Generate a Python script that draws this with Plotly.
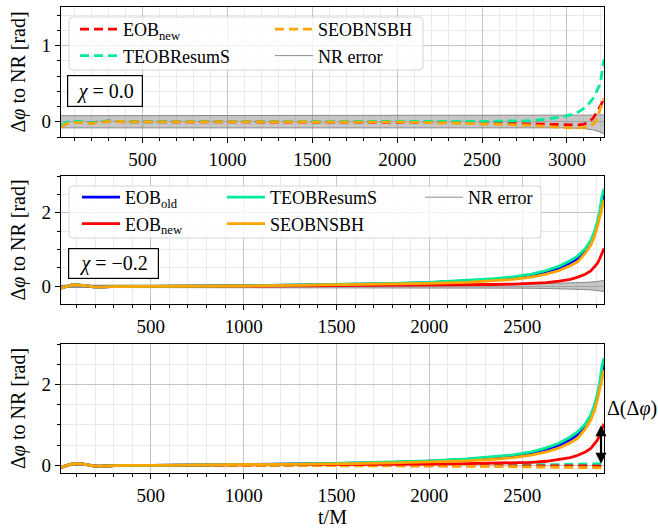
import plotly.graph_objects as go

# ---------------- data ----------------
# Panel 1: chi = 0.0 (dashed curves)
t_chi0 = [20, 40, 60, 90, 130, 170, 210, 260, 310, 400, 600, 1000, 1500, 2000, 2300, 2500,
          2650, 2780, 2880, 2960, 3020, 3070, 3100, 3130, 3155, 3175, 3190, 3200, 3210, 3218]
eob_new_chi0 = [-0.06, -0.03, -0.01, 0.0, -0.005, -0.02, -0.015, 0.0, 0.01, 0.0, 0.0, 0.0, 0.0, -0.003, -0.008, -0.012,
                -0.02, -0.03, -0.04, -0.045, -0.048, -0.042, -0.03, -0.005, 0.05, 0.12, 0.18, 0.22, 0.27, 0.33]
teob_chi0 = [-0.05, -0.02, 0.0, 0.01, 0.005, -0.01, -0.01, 0.005, 0.01, 0.0, 0.0, 0.0, 0.0, 0.0, 0.002, 0.005,
             0.01, 0.013, 0.035, 0.06, 0.09, 0.13, 0.18, 0.24, 0.31, 0.39, 0.47, 0.56, 0.68, 0.82]
seob_chi0 = [-0.07, -0.04, -0.02, -0.01, -0.01, -0.02, -0.02, -0.005, 0.005, 0.0, 0.0, 0.0, 0.0, -0.005, -0.015, -0.025,
             -0.035, -0.045, -0.06, -0.075, -0.08, -0.08, -0.075, -0.06, -0.03, 0.03, 0.14, 0.2, 0.26, 0.31]
t_nr0 = [20, 1000, 2000, 2500, 2800, 3000, 3100, 3150, 3190, 3218]
nr_up_chi0 = [0.08, 0.08, 0.08, 0.08, 0.08, 0.082, 0.085, 0.087, 0.09, 0.09]
nr_lo_chi0 = [-0.08, -0.08, -0.08, -0.075, -0.075, -0.08, -0.09, -0.105, -0.13, -0.16]

# Panels 2 & 3: chi = -0.2 (solid curves)
t_chi2 = [16, 40, 70, 100, 130, 160, 190, 230, 280, 350, 500, 1000, 1500, 1800, 2000, 2200, 2350, 2450,
          2550, 2630, 2700, 2760, 2800, 2840, 2870, 2890, 2905, 2918, 2930, 2941]
eob_old_chi2 = [-0.05, -0.01, 0.03, 0.04, 0.035, 0.01, -0.015, -0.02, -0.005, 0.0, 0.0, 0.015, 0.045, 0.075, 0.1, 0.145, 0.19, 0.235,
                0.3, 0.39, 0.5, 0.64, 0.76, 0.96, 1.19, 1.44, 1.69, 1.98, 2.33, 2.54]
eob_new_chi2 = [-0.05, -0.01, 0.03, 0.04, 0.035, 0.01, -0.015, -0.02, -0.005, 0.0, 0.0, 0.005, 0.015, 0.025, 0.03, 0.04, 0.05, 0.06,
                0.075, 0.1, 0.14, 0.19, 0.25, 0.33, 0.42, 0.52, 0.62, 0.75, 0.9, 1.03]
teob_chi2 = [-0.05, -0.01, 0.03, 0.04, 0.035, 0.01, -0.015, -0.02, -0.005, 0.0, 0.0, 0.015, 0.05, 0.08, 0.11, 0.16, 0.21, 0.26,
             0.33, 0.43, 0.55, 0.7, 0.83, 1.02, 1.25, 1.5, 1.75, 2.05, 2.45, 2.65]
seob_chi2 = [-0.05, -0.01, 0.03, 0.04, 0.035, 0.01, -0.015, -0.02, -0.005, 0.0, 0.0, 0.01, 0.035, 0.06, 0.08, 0.11, 0.15, 0.19,
             0.25, 0.33, 0.43, 0.56, 0.67, 0.9, 1.12, 1.36, 1.62, 1.88, 2.16, 2.36]
t_nr2 = [16, 500, 1000, 1500, 2000, 2300, 2500, 2650, 2750, 2850, 2900, 2941]
nr_up_chi2 = [0.03, 0.03, 0.03, 0.03, 0.035, 0.045, 0.055, 0.07, 0.085, 0.11, 0.13, 0.16]
nr_lo_chi2 = [-0.03, -0.03, -0.03, -0.03, -0.035, -0.04, -0.05, -0.06, -0.07, -0.09, -0.11, -0.14]

# Panel 3 dashed curves
teob_dash3 = [-0.05, -0.01, 0.03, 0.04, 0.035, 0.01, -0.015, -0.02, -0.005, 0.0, 0.0, 0.0, 0.0, 0.003, 0.005, 0.008, 0.01, 0.012,
              0.015, 0.017, 0.02, 0.022, 0.025, 0.027, 0.03, 0.031, 0.033, 0.035, 0.038, 0.04]
eob_new_dash3 = [-0.05, -0.01, 0.03, 0.04, 0.035, 0.01, -0.015, -0.02, -0.005, 0.0, 0.0, 0.0, 0.0, -0.002, -0.003, -0.004, -0.005, -0.006,
                 -0.007, -0.008, -0.01, -0.011, -0.012, -0.013, -0.014, -0.015, -0.016, -0.017, -0.018, -0.02]
seob_dash3 = [-0.05, -0.01, 0.03, 0.04, 0.035, 0.01, -0.015, -0.02, -0.005, 0.0, 0.0, 0.0, -0.005, -0.01, -0.015, -0.02, -0.025, -0.03,
              -0.035, -0.04, -0.043, -0.046, -0.048, -0.05, -0.052, -0.054, -0.056, -0.058, -0.06, -0.062]

x_ticks = [500, 1000, 1500, 2000, 2500, 3000]
x_range0 = [20, 3218]
x_range2 = [16, 2941]
y_range1 = [-0.2, 1.507]
y_range2 = [-0.48, 3.0]
y_range3 = [-0.19, 3.0]

# ---------------- styling ----------------
W, H = 658, 531
L, R, T, B = 61, 604, 7, 473
def px(x):
    return (x - L) / (R - L)
def py(y):
    return (B - y) / (B - T)

FONT = "Liberation Serif"
RED = "#ff0000"
GREEN = "#00ec98"
ORANGE = "#ffa500"
BLUE = "#0000ff"
GRAY = "#808080"
BAND = "rgba(128,128,128,0.45)"
DASH = "9px,5px"
LW = 2.8

fig = go.Figure()

def add(x, y, color, name, xa, ya, dash=None, legend=None, show=False, rank=1000, width=LW):
    fig.add_trace(go.Scatter(x=x, y=y, mode="lines", name=name,
                             line=dict(color=color, width=width, dash=dash),
                             xaxis=xa, yaxis=ya, showlegend=show,
                             legend=legend if legend else "legend", legendrank=rank,
                             hoverinfo="skip"))

def band(t, lo, up, xa, ya, legend=None, show=False, rank=1000):
    fig.add_trace(go.Scatter(x=t, y=lo, mode="lines", name="NR error",
                             line=dict(color=GRAY, width=0.9), xaxis=xa, yaxis=ya,
                             showlegend=show, legend=legend if legend else "legend",
                             legendrank=rank, hoverinfo="skip"))
    fig.add_trace(go.Scatter(x=t, y=up, mode="lines", fill="tonexty", fillcolor=BAND,
                             line=dict(color=GRAY, width=0.9), xaxis=xa, yaxis=ya,
                             showlegend=False, hoverinfo="skip"))

# panel 1
band(t_nr0, nr_lo_chi0, nr_up_chi0, "x", "y", legend="legend2", show=True, rank=2)
add(t_chi0, eob_new_chi0, RED, "EOB<sub>new</sub>", "x", "y", dash=DASH, legend="legend", show=True, rank=1)
add(t_chi0, teob_chi0, GREEN, "TEOBResumS", "x", "y", dash=DASH, legend="legend", show=True, rank=2)
add(t_chi0, seob_chi0, ORANGE, "SEOBNSBH", "x", "y", dash=DASH, legend="legend2", show=True, rank=1)

# panel 2
band(t_nr2, nr_lo_chi2, nr_up_chi2, "x2", "y2", legend="legend5", show=True, rank=1)
add(t_chi2, eob_old_chi2, BLUE, "EOB<sub>old</sub>", "x2", "y2", legend="legend3", show=True, rank=1)
add(t_chi2, eob_new_chi2, RED, "EOB<sub>new</sub>", "x2", "y2", legend="legend3", show=True, rank=2)
add(t_chi2, teob_chi2, GREEN, "TEOBResumS", "x2", "y2", legend="legend4", show=True, rank=1)
add(t_chi2, seob_chi2, ORANGE, "SEOBNSBH", "x2", "y2", legend="legend4", show=True, rank=2)

# panel 3
add(t_chi2, teob_dash3, GREEN, "TEOBResumS", "x3", "y3", dash=DASH)
add(t_chi2, eob_new_dash3, RED, "EOB new", "x3", "y3", dash=DASH)
add(t_chi2, seob_dash3, ORANGE, "SEOBNSBH", "x3", "y3", dash=DASH)
add(t_chi2, eob_old_chi2, BLUE, "EOB old", "x3", "y3")
add(t_chi2, eob_new_chi2, RED, "EOB new", "x3", "y3")
add(t_chi2, teob_chi2, GREEN, "TEOBResumS", "x3", "y3")
add(t_chi2, seob_chi2, ORANGE, "SEOBNSBH", "x3", "y3")

tickfont = dict(family=FONT, size=19, color="black")
def xaxis(rng, anchor, title=None):
    d = dict(range=rng, anchor=anchor, domain=[0, 1], tickvals=x_ticks, automargin=False,
             showline=True, linecolor="black", linewidth=1.2, mirror=True,
             ticks="outside", ticklen=5, tickwidth=1, tickcolor="black",
             showgrid=True, gridcolor="#c4c4c4", gridwidth=1, zeroline=False,
             tickfont=tickfont,
             minor=dict(tick0=0, dtick=100, ticks="outside", ticklen=3, tickwidth=0.8, tickcolor="black",
                        showgrid=True, gridcolor="#eaeaea", gridwidth=1))
    if title:
        d["title"] = dict(text=title, font=dict(family=FONT, size=20, color="black"), standoff=4)
    return d

def yaxis(rng, dom, anchor, dtick, mdtick):
    return dict(range=rng, domain=dom, anchor=anchor, tick0=0, dtick=dtick, automargin=False,
                showline=True, linecolor="black", linewidth=1.2, mirror=True,
                ticks="outside", ticklen=5, tickwidth=1, tickcolor="black",
                showgrid=True, gridcolor="#c4c4c4", gridwidth=1, zeroline=False,
                tickfont=tickfont,
                title=dict(text="Δ<i>φ</i> to NR [rad]", font=dict(family=FONT, size=20, color="black"), standoff=10),
                minor=dict(tick0=0, dtick=mdtick, ticks="outside", ticklen=3, tickwidth=0.8, tickcolor="black",
                           showgrid=True, gridcolor="#eaeaea", gridwidth=1))

legfont = dict(family=FONT, size=18, color="black")
def leg(xp, yp):
    return dict(x=px(xp), y=py(yp), xanchor="left", yanchor="top", orientation="v",
                bgcolor="rgba(0,0,0,0)", borderwidth=0, font=legfont, tracegroupgap=0,
                itemwidth=38, traceorder="normal")

def rrect(x0, y0, x1, y1, r=4):
    rx = r / (R - L)
    ry = r / (B - T)
    a, b, c, d = px(x0), px(x1), py(y1), py(y0)
    return (f"M{a+rx},{c} L{b-rx},{c} Q{b},{c} {b},{c+ry} L{b},{d-ry} Q{b},{d} {b-rx},{d} "
            f"L{a+rx},{d} Q{a},{d} {a},{d-ry} L{a},{c+ry} Q{a},{c} {a+rx},{c} Z")

shapes = [
    dict(type="path", xref="paper", yref="paper", path=rrect(69, 17, 423, 70), layer="above",
         fillcolor="rgba(255,255,255,0.8)", line=dict(color="#d6d6d6", width=1)),
    dict(type="path", xref="paper", yref="paper", path=rrect(69, 186, 541, 238), layer="above",
         fillcolor="rgba(255,255,255,0.8)", line=dict(color="#d6d6d6", width=1)),
]

arrow_t = t_chi2[-1] - 16
annotations = [
    dict(text="<i>χ</i> = 0.0", xref="paper", yref="paper", x=px(67), y=py(75), xanchor="left", yanchor="top",
         showarrow=False, font=dict(family=FONT, size=20, color="black"), bgcolor="white",
         bordercolor="black", borderwidth=1.2, borderpad=3, width=68, height=24),
    dict(text="<i>χ</i> = −0.2", xref="paper", yref="paper", x=px(68), y=py(248), xanchor="left", yanchor="top",
         showarrow=False, font=dict(family=FONT, size=20, color="black"), bgcolor="white",
         bordercolor="black", borderwidth=1.2, borderpad=3, width=83, height=23),
    dict(text="", x=arrow_t, y=eob_new_chi2[-1] - 0.04, ax=arrow_t, ay=0, xref="x3", yref="y3",
         axref="x3", ayref="y3", showarrow=True, arrowhead=2, startarrowhead=2, arrowside="end+start",
         arrowwidth=2.2, arrowsize=1, startarrowsize=1, arrowcolor="black", standoff=0, startstandoff=0),
    dict(text="Δ(Δ<i>φ</i>)", xref="paper", yref="y3", x=px(605), y=1.4, xanchor="left", yanchor="middle",
         showarrow=False, font=dict(family=FONT, size=20, color="black")),
]

fig.update_layout(
    width=W, height=H, autosize=False,
    margin=dict(l=L, r=W - R, t=T, b=H - B, pad=0, autoexpand=False),
    paper_bgcolor="white", plot_bgcolor="white",
    font=dict(family=FONT, size=18, color="black"),
    xaxis=xaxis(x_range0, "y"),
    yaxis=yaxis(y_range1, [py(137), 1.0], "x", 1, 0.2),
    xaxis2=xaxis(x_range2, "y2"),
    yaxis2=yaxis(y_range2, [py(304), py(176)], "x2", 2, 0.5),
    xaxis3=xaxis(x_range2, "y3", title="t/M"),
    yaxis3=yaxis(y_range3, [0.0, py(344)], "x3", 2, 0.5),
    legend=leg(75, 11),
    legend2=leg(270, 11),
    legend3=leg(77, 179),
    legend4=leg(222, 179),
    legend5=leg(420, 179),
    shapes=shapes,
    annotations=annotations,
    showlegend=True,
)

fig.write_html("out.html", config={"displayModeBar": False},
               post_script="document.body.style.margin='0';document.body.style.overflow='hidden';")
